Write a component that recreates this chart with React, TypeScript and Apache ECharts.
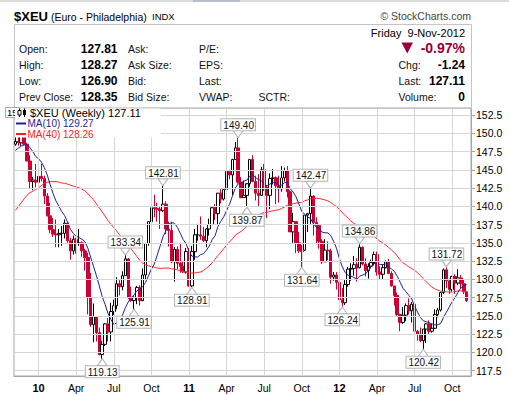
import React, { useEffect, useRef } from 'react';
import * as echarts from 'echarts';

// ---------- data (weekly $XEU, week ending Friday) ----------
const FIRST_WEEK_UTC = [2009, 10, 13]; // Fri 13-Nov-2009

const opens = [
  148.5, 148.9, 148.7, 149.9, 148.5, 146.2, 143.4, 143.6, 143.3, 144.1,
  143.8, 141.4, 138.7, 136.8, 136.2, 136.1, 136.3, 136.3, 137.7, 135.3,
  133.9, 135.5, 134.9, 135.0, 133.9, 133.0, 127.5, 123.8, 124.9, 122.7,
  119.7, 121.1, 123.9, 122.8, 125.6, 126.4, 129.4, 129.0, 130.5, 132.8,
  127.5, 127.1, 127.5, 128.9, 127.1, 130.6, 134.9, 137.9, 139.8, 139.7,
  139.6, 139.4, 140.3, 136.9, 136.7, 132.4, 134.1, 132.2, 131.8, 131.0,
  133.8, 129.1, 133.8, 136.1, 136.1, 135.9, 135.3, 136.9, 137.5, 139.8,
  139.0, 141.8, 141.0, 142.3, 144.8, 144.3, 146.4, 148.0, 143.3, 141.2,
  141.5, 143.1, 146.4, 143.4, 141.8, 141.5, 145.0, 142.6, 141.5, 143.8,
  143.9, 142.8, 142.4, 143.9, 144.9, 142.0, 136.5, 137.9, 135.0, 133.9,
  134.0, 138.8, 139.0, 141.4, 137.8, 137.4, 135.2, 132.4, 134.0, 133.9,
  130.3, 130.6, 129.6, 127.2, 126.8, 129.3, 131.4, 131.5, 132.0, 131.6,
  134.4, 132.1, 131.2, 131.8, 132.3, 133.4, 131.0, 130.7, 131.6, 132.4,
  130.8, 129.1, 127.8, 125.2, 124.1, 125.1, 126.4, 125.7, 126.6, 122.9,
  122.5, 121.6, 123.2, 123.9, 122.9, 123.3, 125.2, 125.8, 128.2, 131.3,
  129.8, 128.6, 130.4, 129.5, 130.2, 129.4, 128.3,
];
const highs = [
  150.1, 150.3, 151.4, 151.4, 148.7, 147.0, 144.0, 145.8, 145.1, 145.8,
  144.2, 141.8, 140.5, 138.4, 138.2, 136.9, 137.3, 138.2, 137.9, 135.7,
  136.0, 135.7, 136.9, 135.2, 134.2, 133.6, 130.9, 126.7, 125.0, 123.4,
  121.6, 124.0, 124.7, 126.8, 127.2, 130.3, 129.9, 131.1, 133.34, 132.9,
  129.0, 127.7, 129.1, 129.2, 131.5, 135.0, 137.9, 140.3, 141.6, 140.5,
  139.9, 142.81, 140.7, 137.9, 137.9, 134.4, 134.5, 135.0, 132.4, 134.3,
  134.3, 134.6, 136.9, 137.6, 138.6, 137.2, 137.0, 138.3, 140.0, 140.3,
  141.8, 142.5, 142.5, 144.9, 145.0, 146.5, 148.8, 149.40, 144.0, 143.5,
  143.0, 146.4, 147.0, 144.2, 144.4, 145.4, 145.8, 142.9, 144.5, 145.1,
  144.1, 144.2, 145.5, 145.3, 145.5, 142.2, 139.1, 137.9, 136.5, 134.7,
  138.8, 139.1, 142.47, 141.5, 138.5, 137.4, 135.5, 135.5, 135.2, 134.2,
  131.0, 131.0, 130.7, 128.8, 129.9, 131.7, 132.2, 133.2, 132.9, 134.86,
  134.5, 132.9, 132.2, 132.7, 133.8, 133.8, 131.8, 132.0, 132.6, 132.8,
  131.1, 129.1, 128.2, 125.3, 126.2, 126.7, 127.4, 126.9, 126.9, 123.1,
  123.4, 123.2, 124.0, 124.4, 123.9, 125.9, 126.1, 128.2, 131.5, 131.72,
  130.1, 130.5, 130.7, 131.4, 130.6, 130.0, 128.3,
];
const lows = [
  148.3, 148.3, 148.3, 148.4, 146.2, 142.5, 142.2, 142.6, 142.6, 143.4,
  140.3, 138.6, 136.3, 135.8, 134.4, 134.4, 134.6, 135.6, 135.0, 132.7,
  133.4, 133.5, 134.6, 133.1, 131.2, 125.2, 123.5, 121.4, 121.5, 119.6,
  119.13, 120.9, 121.5, 121.5, 125.1, 125.9, 127.8, 128.5, 130.5, 127.3,
  126.9, 125.91, 126.6, 126.4, 127.0, 129.9, 134.6, 136.8, 138.5, 137.9,
  136.9, 139.2, 136.2, 134.5, 132.2, 129.7, 131.4, 130.9, 130.9, 130.8,
  129.0, 128.91, 132.7, 135.3, 135.4, 135.1, 134.4, 136.0, 137.5, 138.1,
  137.5, 140.4, 140.8, 142.3, 143.7, 141.5, 146.4, 143.1, 141.1, 141.2,
  139.87, 142.7, 143.3, 140.8, 140.0, 141.4, 142.1, 138.4, 139.6, 143.0,
  140.3, 140.5, 142.0, 143.4, 141.2, 136.5, 135.0, 133.6, 133.6, 131.64,
  133.9, 136.5, 137.6, 136.0, 134.8, 134.2, 132.1, 132.4, 132.6, 129.4,
  129.8, 128.6, 127.2, 126.24, 126.5, 129.0, 129.8, 130.5, 129.7, 131.5,
  131.9, 130.4, 130.1, 131.5, 131.9, 130.5, 130.0, 130.0, 131.5, 130.8,
  129.0, 126.4, 125.0, 122.9, 123.9, 124.3, 125.2, 124.1, 122.9, 121.6,
  121.4, 120.42, 121.3, 122.4, 122.7, 123.2, 124.8, 125.6, 128.0, 128.8,
  128.0, 128.3, 128.0, 129.2, 128.8, 128.0, 126.9,
];
const closes = [
  148.9, 148.7, 149.9, 148.5, 146.2, 143.4, 143.6, 143.3, 144.1, 143.8,
  141.4, 138.7, 136.8, 136.2, 136.1, 136.3, 136.3, 137.7, 135.3, 133.9,
  135.5, 134.9, 135.0, 133.9, 133.0, 127.5, 123.8, 124.9, 122.7, 119.7,
  121.1, 123.9, 122.8, 125.6, 126.4, 129.4, 129.0, 130.5, 132.8, 127.5,
  127.1, 127.5, 128.9, 127.1, 130.6, 134.9, 137.9, 139.8, 139.7, 139.6,
  139.4, 140.3, 136.9, 136.7, 132.4, 134.1, 132.2, 131.8, 131.0, 133.8,
  129.1, 133.8, 136.1, 136.1, 135.9, 135.3, 136.9, 137.5, 139.8, 139.0,
  141.8, 141.0, 142.3, 144.8, 144.3, 146.4, 148.0, 143.3, 141.2, 141.5,
  143.1, 146.4, 143.4, 141.8, 141.5, 145.0, 142.6, 141.5, 143.8, 143.9,
  142.8, 142.4, 143.9, 144.9, 142.0, 136.5, 137.9, 135.0, 133.9, 133.8,
  138.8, 139.0, 141.4, 137.8, 137.4, 135.2, 132.4, 134.0, 133.9, 130.3,
  130.6, 129.6, 127.2, 126.8, 129.3, 131.4, 131.5, 132.0, 131.6, 134.4,
  132.1, 131.2, 131.8, 132.3, 133.4, 131.0, 130.7, 131.6, 132.4, 130.8,
  129.1, 127.8, 125.2, 124.1, 125.1, 126.4, 125.7, 126.6, 122.9, 122.5,
  121.6, 123.2, 123.9, 122.9, 123.3, 125.2, 125.8, 128.2, 131.3, 129.8,
  128.6, 130.4, 129.5, 130.2, 129.4, 128.3, 127.1,
];
// weekly closes of the 39 weeks before the first visible candle (only feed the moving averages)
const priorCloses = [
  128.4, 129.0, 126.6, 126.6, 129.1, 136.2, 133.0, 134.8, 131.7, 130.2,
  132.5, 132.8, 136.6, 134.9, 139.9, 141.5, 138.9, 139.9, 139.4, 140.5,
  140.2, 139.4, 141.3, 141.8, 142.5, 141.9, 141.9, 143.5, 143.1, 143.0,
  145.7, 147.2, 146.9, 145.6, 147.5, 149.1, 150.1, 147.2, 148.5,
];

const xTickLabels = ['10', 'Apr', 'Jul', 'Oct', '11', 'Apr', 'Jul', 'Oct', '12', 'Apr', 'Jul', 'Oct'];
const yTicks = [117.5, 120, 122.5, 125, 127.5, 130, 132.5, 135, 137.5, 140, 142.5, 145, 147.5, 150, 152.5];

const calloutDates = ['2010-06-11', '2010-08-06', '2010-08-27', '2010-11-05', '2011-01-14', '2011-05-06', '2011-05-27', '2011-10-07', '2011-10-28', '2012-01-13', '2012-02-24', '2012-07-27', '2012-09-21'];
const calloutValues = [119.13, 133.34, 125.91, 142.81, 128.91, 149.40, 139.87, 131.64, 142.47, 126.24, 134.86, 120.42, 131.72];
const calloutKinds = ['low', 'high', 'low', 'high', 'low', 'high', 'low', 'low', 'high', 'low', 'high', 'low', 'high'];

const legendClose = '127.11';
const legendMa10 = '129.27';
const legendMa40 = '128.26';

const FONT = '"Liberation Sans", Arial, sans-serif';
const RED = '#cc0033';

function buildOption() {
  const n = closes.length;
  const dates = Array.from({ length: n }, (_, i) => {
    const d = new Date(Date.UTC(FIRST_WEEK_UTC[0], FIRST_WEEK_UTC[1], FIRST_WEEK_UTC[2] + 7 * i));
    return d.toISOString().slice(0, 10);
  });
  const categories = [...dates, ''];
  const allCloses = [...priorCloses, ...closes];
  const ma = (p: number) =>
    closes.map((_, i) => {
      const end = priorCloses.length + i;
      let s = 0;
      for (let k = end - p + 1; k <= end; k++) s += allCloses[k];
      return +(s / p).toFixed(3);
    });

  const candleData = closes.map((c, i) => {
    const o = opens[i];
    const prev = i ? closes[i - 1] : priorCloses[priorCloses.length - 1];
    const stroke = c >= prev ? '#000000' : RED;
    const fill = c > o ? '#ffffff' : stroke;
    return {
      value: [o, c, lows[i], highs[i]],
      itemStyle: { color: fill, color0: fill, borderColor: stroke, borderColor0: stroke, borderWidth: 1 },
    };
  });

  const tickIdx: number[] = [];
  for (let i = 8; i < n; i += 13) tickIdx.push(i);

  const markPoints = calloutDates.map((d, k) => {
    const high = calloutKinds[k] === 'high';
    const v = calloutValues[k];
    return {
      coord: [d, v],
      value: v,
      symbol: high ? 'path://M0,0L10,0L5,7Z' : 'path://M5,0L10,7L0,7Z',
      symbolSize: [10, 7],
      symbolOffset: [0, high ? -3.5 : 3.5],
      itemStyle: { color: '#ffffff', borderColor: '#b4b4b4', borderWidth: 1 },
      label: {
        show: true,
        position: high ? 'top' : 'bottom',
        distance: 0,
        formatter: v.toFixed(2),
        color: '#111',
        fontSize: 10,
        lineHeight: 10,
        fontFamily: FONT,
        backgroundColor: '#ffffff',
        borderColor: '#b4b4b4',
        borderWidth: 1,
        padding: [1, 1, 0, 2],
      },
    };
  });

  const txt = (text: string, x: number, y: number, font: string, fill = '#111', align = 'left', z = 50) => ({
    type: 'text', x, y, z, silent: true,
    style: { text, font, fill, textAlign: align, textVerticalAlign: 'middle' },
  });

  const hdr = (px: number, bold = false) => `${bold ? 'bold ' : ''}${px}px ${FONT}`;

  const graphic: any[] = [
    // header
    { type: 'rect', z: 40, silent: true, shape: { x: 0, y: 0, width: 509, height: 2 }, style: { fill: '#dcdcdc' } },
    { type: 'rect', z: 41, silent: true, shape: { x: 193, y: 0, width: 47, height: 2 }, style: { fill: '#b8bec8' } },
    { type: 'rect', z: 40, silent: true, shape: { x: 14.5, y: 24.5, width: 457, height: 84 }, style: { fill: 'none', stroke: '#c4c4c4', lineWidth: 1 } },
    txt('$XEU', 14, 16, hdr(13, true), '#000'),
    txt('(Euro - Philadelphia)', 51, 16.5, hdr(10.5), '#000'),
    txt('INDX', 152, 16.5, hdr(9.5), '#000'),
    txt('© StockCharts.com', 471, 16, hdr(10.5), '#444', 'right'),
    txt('Friday  9-Nov-2012', 465, 32.5, hdr(11), '#000', 'right'),
    txt('Open:', 19, 48.5, hdr(10.5)),
    txt('High:', 19, 64.5, hdr(10.5)),
    txt('Low:', 19, 80.5, hdr(10.5)),
    txt('Prev Close:', 19, 96.5, hdr(10.5)),
    txt('127.81', 117.5, 48.5, hdr(12, true), '#000', 'right'),
    txt('128.27', 117.5, 64.5, hdr(12, true), '#000', 'right'),
    txt('126.90', 117.5, 80.5, hdr(12, true), '#000', 'right'),
    txt('128.35', 117.5, 96.5, hdr(12, true), '#000', 'right'),
    txt('Ask:', 128, 48.5, hdr(10.5)),
    txt('Ask Size:', 128, 64.5, hdr(10.5)),
    txt('Bid:', 128, 80.5, hdr(10.5)),
    txt('Bid Size:', 128, 96.5, hdr(10.5)),
    txt('P/E:', 199, 48.5, hdr(10.5)),
    txt('EPS:', 199, 64.5, hdr(10.5)),
    txt('Last:', 199, 80.5, hdr(10.5)),
    txt('VWAP:', 199, 96.5, hdr(10.5)),
    txt('SCTR:', 258.5, 96.5, hdr(10.5)),
    { type: 'polygon', z: 50, silent: true, shape: { points: [[401.5, 42.5], [413, 42.5], [407.25, 53.5]] }, style: { fill: '#990033' } },
    txt('-0.97%', 465, 48, hdr(14, true), '#990033', 'right'),
    txt('Chg:', 398.5, 64.5, hdr(10.5)),
    txt('-1.24', 465, 64.5, hdr(12, true), '#000', 'right'),
    txt('Last:', 398.5, 80.5, hdr(10.5)),
    txt('127.11', 465, 80.5, hdr(12, true), '#000', 'right'),
    txt('Volume:', 398.5, 96.5, hdr(10.5)),
    txt('0', 465, 96.5, hdr(12, true), '#000', 'right'),
    // hidden left label fragment
    { type: 'rect', z: 60, silent: true, shape: { x: 5.5, y: 107.5, width: 14, height: 10 }, style: { fill: '#fff', stroke: '#a8a8a8', lineWidth: 1 } },
    txt('15', 7, 112.5, hdr(9.5), '#000', 'left', 61),
    // legend
    { type: 'rect', z: 70, silent: true, shape: { x: 15, y: 108.5, width: 146, height: 29 }, style: { fill: '#ffffff' } },
    { type: 'line', z: 71, silent: true, shape: { x1: 19.5, y1: 108.5, x2: 19.5, y2: 117 }, style: { stroke: '#000', lineWidth: 1 } },
    { type: 'rect', z: 72, silent: true, shape: { x: 18, y: 110.5, width: 3, height: 4.5 }, style: { fill: '#fff', stroke: '#000', lineWidth: 1 } },
    { type: 'line', z: 71, silent: true, shape: { x1: 24.5, y1: 108.5, x2: 24.5, y2: 117 }, style: { stroke: '#000', lineWidth: 1 } },
    { type: 'rect', z: 72, silent: true, shape: { x: 23, y: 110, width: 3, height: 5 }, style: { fill: '#000' } },
    txt(`$XEU (Weekly) ${legendClose}`, 30, 113, hdr(11), '#000', 'left', 75),
    { type: 'line', z: 72, silent: true, shape: { x1: 16, y1: 123.5, x2: 26, y2: 123.5 }, style: { stroke: '#1f1f99', lineWidth: 2 } },
    txt(`MA(10) ${legendMa10}`, 27.5, 123.5, hdr(10), '#1f1f99', 'left', 75),
    { type: 'line', z: 72, silent: true, shape: { x1: 16, y1: 134, x2: 26, y2: 134 }, style: { stroke: '#ff1a1a', lineWidth: 2 } },
    txt(`MA(40) ${legendMa40}`, 27.5, 134, hdr(10), '#ff1a1a', 'left', 75),
  ];

  return {
    animation: false,
    backgroundColor: '#ffffff',
    textStyle: { fontFamily: FONT },
    grid: {
      left: 14, right: 38, top: 108, bottom: 19,
      show: true, borderColor: '#a6a6a6', borderWidth: 1, backgroundColor: '#ffffff',
    },
    xAxis: {
      type: 'category',
      data: categories,
      boundaryGap: true,
      axisLine: { show: true, lineStyle: { color: '#a6a6a6' } },
      axisTick: { show: false },
      splitLine: { show: false },
      axisLabel: {
        interval: (i: number) => i >= 8 && (i - 8) % 13 === 0,
        margin: 6,
        fontSize: 10.5,
        fontFamily: FONT,
        color: '#000',
        formatter: (_v: string, i: number) => {
          const k = (i - 8) / 13;
          const s = xTickLabels[k] ?? '';
          return /^\d+$/.test(s) ? `{y|${s}}` : s;
        },
        rich: { y: { fontWeight: 'bold', fontSize: 11, fontFamily: FONT, color: '#000' } },
      },
    },
    yAxis: {
      type: 'value',
      position: 'right',
      min: 116.77,
      max: 153.46,
      axisLine: { show: true, lineStyle: { color: '#a6a6a6' } },
      axisTick: { show: true, length: 4, lineStyle: { color: '#a6a6a6' }, customValues: yTicks },
      axisLabel: {
        customValues: yTicks,
        formatter: (v: number) => v.toFixed(1),
        color: '#000',
        fontSize: 10.5,
        fontFamily: FONT,
        margin: 5,
      },
      splitLine: { show: false },
    },
    graphic,
    series: [
      {
        name: 'grid',
        type: 'line',
        data: [],
        z: 1,
        silent: true,
        markLine: {
          silent: true,
          symbol: ['none', 'none'],
          label: { show: false },
          lineStyle: { color: '#d6d6d6', width: 1, type: 'solid' },
          data: [
            ...yTicks.map((v) => ({ yAxis: v })),
            ...tickIdx.map((i) => ({ xAxis: dates[i] })),
          ],
        },
      },
      {
        name: '$XEU',
        type: 'candlestick',
        z: 3,
        barWidth: 3,
        data: candleData,
        markPoint: { silent: true, data: markPoints, z: 10 },
      },
      {
        name: 'MA(40)',
        type: 'line',
        z: 4,
        data: ma(40),
        showSymbol: false,
        symbol: 'none',
        smooth: false,
        lineStyle: { color: '#ff2a2a', width: 1 },
      },
      {
        name: 'MA(10)',
        type: 'line',
        z: 4,
        data: ma(10),
        showSymbol: false,
        symbol: 'none',
        smooth: false,
        lineStyle: { color: '#1f1f99', width: 1 },
      },
    ],
  };
}

export default function App() {
  const ref = useRef<HTMLDivElement>(null);
  useEffect(() => {
    if (!ref.current) return;
    const chart = echarts.init(ref.current, null, { renderer: 'svg' });
    chart.setOption(buildOption() as any);
    return () => chart.dispose();
  }, []);
  return (
    <div
      ref={ref}
      style={{ position: 'fixed', left: 0, top: 0, width: 509, height: 395, background: '#ffffff' }}
    />
  );
}
